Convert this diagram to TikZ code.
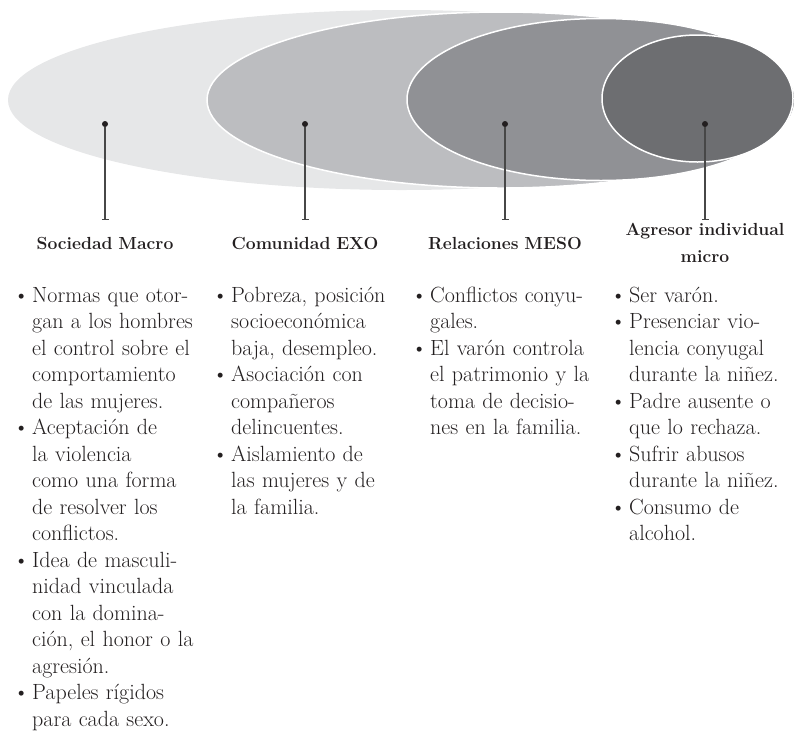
\documentclass[tikz,border=0pt]{standalone}
\usepackage{fontspec}
\usetikzlibrary{shapes.geometric,arrows.meta}
\definecolor{ellA}{HTML}{E6E7E8}
\definecolor{ellB}{HTML}{BCBDC0}
\definecolor{ellC}{HTML}{909195}
\definecolor{ellD}{HTML}{6D6E71}
\definecolor{ink}{HTML}{231F20}
\newcommand\bul{\leavevmode\llap{\textbullet\hspace{3pt}}}
\begin{document}
\begin{tikzpicture}[x=1pt,y=-1pt,
  ell/.style={ellipse, inner sep=0pt, outer sep=0pt, draw=white, line width=1.5pt},
  dotnode/.style={circle, fill=ink, inner sep=0pt, minimum size=6pt},
  stem/.style={draw=black!72, line width=1.5pt, -{Bar[width=7pt,line width=1.3pt]}},
  title/.style={anchor=north, inner sep=0pt, text width=190pt, align=center,
    font=\fontsize{17.5}{27}\selectfont\bfseries, text=ink},
  body/.style={anchor=north west, inner sep=0pt, text width=195pt, align=left,
    font=\fontsize{22}{26.5}\selectfont, text=ink}
]
\useasboundingbox (0,0) rectangle (795,740);
% nested ellipses
\node[ell, draw=none, fill=ellA, minimum width=787pt, minimum height=180pt] (macro) at (401.5,100) {};
\node[ell, fill=ellB, minimum width=588pt, minimum height=176pt] (exo) at (501,100) {};
\node[ell, fill=ellC, minimum width=388pt, minimum height=162pt] (meso) at (601,99.5) {};
\node[ell, fill=ellD, minimum width=191pt, minimum height=127pt] (micro) at (697.5,98.5) {};
% dots and stems
\node[dotnode] (d1) at (105,124) {};
\node[dotnode] (d2) at (305,124) {};
\node[dotnode] (d3) at (505,124) {};
\node[dotnode] (d4) at (705,124) {};
\coordinate (e1) at (105,220);
\coordinate (e2) at (305,220);
\coordinate (e3) at (505,220);
\coordinate (e4) at (705,220);
\draw[stem] (d1) -- (e1);
\draw[stem] (d2) -- (e2);
\draw[stem] (d3) -- (e3);
\draw[stem] (d4) -- (e4);
% titles
\node[title] (h1) at (105,230.1) {\strut Sociedad Macro};
\node[title] (h2) at (305,230.1) {\strut Comunidad EXO};
\node[title] (h3) at (505,230.1) {\strut Relaciones MESO};
\node[title] (h4) at (705,216.1) {\strut Agresor individual\\\strut micro};
% bullet lists
\node[body] (t1) at (32,283.5) {\bul\strut Normas que otor-\\gan a los hombres\\el control sobre el\\comportamiento\\de las mujeres.\\\bul Aceptación de\\la violencia\\como una forma\\de resolver los\\conflictos.\\\bul Idea de masculi-\\nidad vinculada\\con la domina-\\ción, el honor o la\\agresión.\\\bul Papeles rígidos\\para cada sexo.};
\node[body] (t2) at (231,283.5) {\bul\strut Pobreza, posición\\socioeconómica\\baja, desempleo.\\\bul Asociación con\\compañeros\\delincuentes.\\\bul Aislamiento de\\las mujeres y de\\la familia.};
\node[body] (t3) at (430,283.5) {\bul\strut Conflictos conyu-\\gales.\\\bul El varón controla\\el patrimonio y la\\toma de decisio-\\nes en la familia.};
\node[body] (t4) at (629,283.5) {\bul\strut Ser varón.\\\bul Presenciar vio-\\lencia conyugal\\durante la niñez.\\\bul Padre ausente o\\que lo rechaza.\\\bul Sufrir abusos\\durante la niñez.\\\bul Consumo de\\alcohol.};
\end{tikzpicture}
\end{document}
